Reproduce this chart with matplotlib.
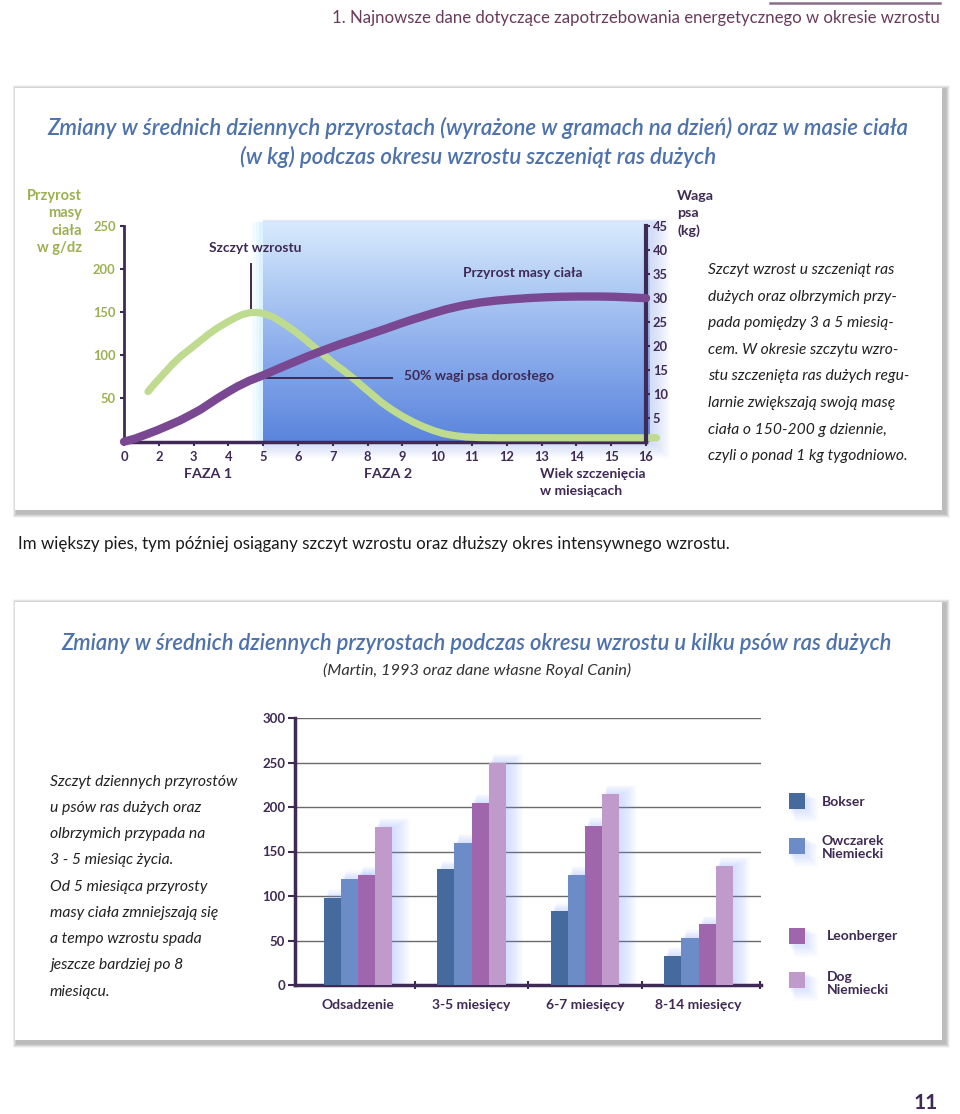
import matplotlib
matplotlib.use('Agg')
import matplotlib.pyplot as plt
import numpy as np
from matplotlib.patches import Rectangle
from matplotlib.colors import LinearSegmentedColormap

W, H = 960, 1114
DPI = 100
plt.rcParams['font.family'] = ['Lato', 'DejaVu Sans']

# ---------------- data: top chart ----------------
age_labels = ['0', '2', '3', '4', '5', '6', '7', '8', '9', '10', '11', '12', '13', '14', '15', '16']
gain_x = [0.69, 0.9, 1.15, 1.4, 1.65, 1.92, 2.2, 2.45, 2.68, 2.95, 3.2, 3.42, 3.64, 3.85,
          4.05, 4.3, 4.6, 4.9, 5.17, 5.45, 5.75, 6.05, 6.32, 6.6, 6.9, 7.15, 7.4, 7.7,
          8.0, 8.3, 8.6, 8.9, 9.2, 9.5, 9.8, 10.2, 10.8, 12.0, 13.0, 14.0, 15.3]
gain_g = [58, 68, 79, 90, 99.5, 108, 117, 125, 131.5, 138, 143.5, 147.5, 149.5, 149.5,
          148, 144, 136.5, 128, 119.5, 110, 100, 90, 82, 73, 62.5, 54, 45.5, 37,
          29.5, 23, 17.5, 12.8, 9.2, 7, 5.6, 4.8, 4.5, 4.5, 4.5, 4.5, 4.5]
weight_x = [0, 0.3, 0.6, 0.96, 1.25, 1.6, 1.92, 2.2, 2.45, 2.68, 2.95, 3.26, 3.6, 4.02,
            4.4, 4.79, 5.25, 5.75, 6.2, 6.7, 7.1, 7.47, 7.9, 8.31, 8.8, 9.27, 9.75,
            10.23, 10.7, 11.2, 11.7, 12.15, 12.6, 13.11, 13.6, 14.07, 14.55, 15.0]
weight_kg = [0, 0.6, 1.4, 2.4, 3.3, 4.4, 5.6, 6.7, 7.9, 9.0, 10.2, 11.5, 12.7, 13.9,
             15.1, 16.3, 17.7, 19.1, 20.3, 21.5, 22.5, 23.4, 24.5, 25.5, 26.6, 27.6, 28.4,
             29.0, 29.4, 29.7, 29.95, 30.1, 30.2, 30.25, 30.25, 30.2, 30.05, 29.9]
peak_x, peak_g = 3.64, 150
half_weight_kg = 13.3
left_ticks = [50, 100, 150, 200, 250]
right_ticks = [5, 10, 15, 20, 25, 30, 35, 40, 45]

# ---------------- data: bottom chart ----------------
age_groups = ['Odsadzenie', '3-5 miesięcy', '6-7 miesięcy', '8-14 miesięcy']
breeds = ['Bokser', 'Owczarek\nNiemiecki', 'Leonberger', 'Dog\nNiemiecki']
bokser = [98, 130, 83, 33]
owczarek = [119, 160, 124, 53]
leonberger = [124, 205, 179, 68]
dog = [178, 250, 215, 134]
bar_ticks = [0, 50, 100, 150, 200, 250, 300]

DARK = '#3f2a55'
OLIVE = '#9db04f'
GREEN = '#bedb8f'
PURPLE = '#7a4792'
BLUE_T = '#4e72ab'
BAR_COLORS = ['#456a9e', '#6b8cc6', '#a066ad', '#c09acb']

fig = plt.figure(figsize=(W / DPI, H / DPI), dpi=DPI)
fig.patch.set_facecolor('white')
renderer = fig.canvas.get_renderer()


def px_axes(x0, y0, x1, y1):
    return fig.add_axes([x0 / W, 1 - y1 / H, (x1 - x0) / W, (y1 - y0) / H])


def ftxt(x, y, s, size, ha='left', va='center', **kw):
    return fig.text(x / W, 1 - y / H, s, fontsize=size, ha=ha, va=va, **kw)


def fit(x, y, s, width, ha='left', **kw):
    t = ftxt(x, y, s, 10, ha=ha, **kw)
    bb = t.get_window_extent(renderer=renderer)
    size = 10 * width / bb.width
    t.set_fontsize(size)
    return t, size


# ---------------- background / cards ----------------
bg = px_axes(0, 0, W, H)
bg.set_xlim(0, W)
bg.set_ylim(H, 0)
bg.axis('off')
bg.set_zorder(-5)


def card(x0, y0, x1, y1):
    for i in range(8, 0, -1):
        bg.add_patch(Rectangle((x0 - i * 0.5 + 1.5, y0 - i * 0.5 + 1), (x1 - x0) + i * 1.0 + 2,
                               (y1 - y0) + i * 1.0 + 2.5, facecolor='#000000', alpha=0.035, lw=0))
    bg.add_patch(Rectangle((x0, y0), x1 - x0, y1 - y0, facecolor='white', lw=0))


card(15, 88, 942, 510)
card(15, 602, 942, 1040)
bg.plot([770, 940], [3, 3], color='#8b6f88', lw=1.8)

# glow around the phase-2 block
for i, c in enumerate(['#f4fcff', '#e8f8fe', '#dcf3fd']):
    bg.add_patch(Rectangle((252 + i * 3.7, 222), 11 - i * 3.7, 220, facecolor=c, lw=0))
for i in range(1, 11):
    bg.add_patch(Rectangle((263, 222 - i * 0.3), 388 + i * 1.9, 220 + i * 1.9,
                           facecolor='#6e93ea', alpha=0.03, lw=0))

# ---------------- top chart ----------------
ax1 = px_axes(124, 225.7, 646, 441.7)
ax1.set_facecolor('none')
cmap = LinearSegmentedColormap.from_list('g', ['#d8eafd', '#abc7f3', '#82a5e9', '#5a84dc'])
grad = np.linspace(0, 1, 256).reshape(-1, 1)
ax1.imshow(grad, cmap=cmap, extent=[4, 15.12, 0, 254], aspect='auto', origin='upper',
           zorder=0.5, clip_on=False)
ax1.plot(gain_x, gain_g, color=GREEN, lw=5.2, solid_capstyle='round',
         solid_joinstyle='round', clip_on=False, zorder=3)
ax1.plot([peak_x, peak_x], [peak_g, 206], color=DARK, lw=1.4, zorder=2, clip_on=False)
ax1.set_xlim(0, 15)
ax1.set_ylim(0, 250)
ax1.set_xticks(range(len(age_labels)))
ax1.set_xticklabels(age_labels)
ax1.set_yticks(left_ticks)
ax1.tick_params(axis='x', direction='out', length=3, width=1.5, color=DARK,
                labelcolor=DARK, labelsize=9.3, pad=4)
ax1.tick_params(axis='y', direction='out', length=3, width=1.5, color=DARK,
                labelcolor=OLIVE, labelsize=9.3, pad=3)
for lab in ax1.get_xticklabels() + ax1.get_yticklabels():
    lab.set_fontweight('bold')
for s in ['top', 'right']:
    ax1.spines[s].set_visible(False)
ax1.spines['left'].set_color(DARK)
ax1.spines['left'].set_linewidth(2)
ax1.spines['bottom'].set_color(DARK)
ax1.spines['bottom'].set_linewidth(2.5)

ax2 = ax1.twinx()
ax2.plot([4.0, 7.69], [half_weight_kg, half_weight_kg], color=DARK, lw=1.4, zorder=2)
ax2.plot(weight_x, weight_kg, color=PURPLE, lw=6, solid_capstyle='round',
         solid_joinstyle='round', clip_on=False, zorder=4)
ax2.set_ylim(0, 45)
ax2.set_yticks(right_ticks)
ax2.tick_params(axis='y', direction='out', length=3, width=1.5, color=DARK,
                labelcolor=DARK, labelsize=9.3, pad=2)
for lab in ax2.get_yticklabels():
    lab.set_fontweight('bold')
for s in ['top', 'left', 'bottom']:
    ax2.spines[s].set_visible(False)
ax2.spines['right'].set_color(DARK)
ax2.spines['right'].set_linewidth(3)

# top chart texts
for txt, yy in zip(['Przyrost', 'masy', 'ciała', 'w g/dz'], [196, 213, 231, 248]):
    ftxt(82, yy, txt, 10.5, ha='right', color=OLIVE, weight='bold')
for txt, yy in zip(['Waga', 'psa', '(kg)'], [196, 213, 231]):
    ftxt(677, yy, txt, 10.3, ha='left', color=DARK, weight='bold')
ftxt(255, 248, 'Szczyt wzrostu', 10, ha='center', color=DARK, weight='bold')
ftxt(523, 273, 'Przyrost masy ciała', 10, ha='center', color=DARK, weight='bold')
ftxt(404, 376, '50% wagi psa dorosłego', 10, ha='left', color=DARK, weight='bold')
ftxt(208, 474, 'FAZA 1', 10.3, ha='center', color=DARK, weight='bold')
ftxt(388, 474, 'FAZA 2', 10.3, ha='center', color=DARK, weight='bold')
ftxt(540, 474, 'Wiek szczenięcia', 10, ha='left', color=DARK, weight='bold')
ftxt(540, 491, 'w miesiącach', 10, ha='left', color=DARK, weight='bold')

para1 = ['Szczyt wzrost u szczeniąt ras', 'dużych oraz olbrzymich przy-',
         'pada pomiędzy 3 a 5 miesią-', 'cem. W okresie szczytu wzro-',
         'stu szczenięta ras dużych regu-', 'larnie zwiększają swoją masę',
         'ciała o 150-200 g dziennie,', 'czyli o ponad 1 kg tygodniowo.']
_, s1 = fit(708, 270, para1[0], 186, color='#222222', style='italic')
for i, line in enumerate(para1[1:], start=1):
    ftxt(708, 270 + 26.6 * i, line, s1, color='#222222', style='italic')

# titles / header
fit(940, 18, '1. Najnowsze dane dotyczące zapotrzebowania energetycznego w okresie wzrostu',
    610, ha='right', color='#6a3a5c')
_, st = fit(478, 128, 'Zmiany w średnich dziennych przyrostach (wyrażone w gramach na dzień) oraz w masie ciała',
            860, ha='center', color=BLUE_T, style='italic', weight='semibold')
ftxt(478, 157, '(w kg) podczas okresu wzrostu szczeniąt ras dużych', st, ha='center',
     color=BLUE_T, style='italic', weight='semibold')
fit(18, 544, 'Im większy pies, tym później osiągany szczyt wzrostu oraz dłuższy okres intensywnego wzrostu.',
    710, ha='left', color='#1a1a1a')
fit(477, 643, 'Zmiany w średnich dziennych przyrostach podczas okresu wzrostu u kilku psów ras dużych',
    829, ha='center', color=BLUE_T, style='italic', weight='semibold')
fit(477, 670, '(Martin, 1993 oraz dane własne Royal Canin)', 309, ha='center',
    color='#333333', style='italic')

# ---------------- bottom chart ----------------
ax3 = px_axes(295, 718, 761, 985)
ax3.set_facecolor('none')
ax3.set_xlim(-0.555, 3.55)
ax3.set_ylim(0, 300)
for v in bar_ticks[1:]:
    ax3.axhline(v, color='#6a6a6a', lw=1, zorder=0.5)
w = 0.1514
xg = np.arange(len(age_groups))
series = [bokser, owczarek, leonberger, dog]
for i, (vals, c) in enumerate(zip(series, BAR_COLORS)):
    xs = xg + (i - 1.5) * w
    for k in range(1, 10):
        ax3.bar(xs + 0.011 * k, np.array(vals) - 2.0 + 1.3 * k, width=w + 0.012 * k,
                color='#7f9dff', alpha=0.04, lw=0, zorder=1)
    ax3.bar(xs, vals, width=w, color=c, lw=0, zorder=3)
ax3.set_yticks(bar_ticks)
ax3.set_xticks([0.5, 1.5, 2.5, 3.54])
ax3.set_xticklabels([])
ax3.set_xticks(xg, minor=True)
ax3.set_xticklabels(age_groups, minor=True)
ax3.tick_params(axis='x', which='major', direction='inout', length=6, width=1.5, color=DARK)
ax3.tick_params(axis='x', which='minor', length=0, pad=10, labelsize=10, labelcolor=DARK)
ax3.tick_params(axis='y', direction='out', length=5, width=1.5, color=DARK,
                labelcolor=DARK, labelsize=9.5, pad=2)
for lab in ax3.get_xticklabels(minor=True) + ax3.get_yticklabels():
    lab.set_fontweight('bold')
for s in ['top', 'right']:
    ax3.spines[s].set_visible(False)
ax3.spines['left'].set_color(DARK)
ax3.spines['left'].set_linewidth(2.5)
ax3.spines['bottom'].set_color(DARK)
ax3.spines['bottom'].set_linewidth(2.5)

# legend
leg_sq_y = [793, 838, 928, 972]
leg_txt = [(822, 802), (822, 847.5), (827, 936), (827, 983.5)]
for (c, name, sy, (tx, ty)) in zip(BAR_COLORS, breeds, leg_sq_y, leg_txt):
    for k in range(1, 8):
        bg.add_patch(Rectangle((789 + k * 0.8, sy + k * 0.8), 16 + k * 1.0, 16 + k * 1.0,
                               facecolor='#7f9dff', alpha=0.04, lw=0))
    bg.add_patch(Rectangle((789, sy), 16, 16, facecolor=c, lw=0))
    ftxt(tx, ty, name, 10, ha='left', color=DARK, weight='bold', linespacing=1.15)

para2 = ['Szczyt dziennych przyrostów', 'u psów ras dużych oraz', 'olbrzymich przypada na',
         '3 - 5 miesiąc życia.', 'Od 5 miesiąca przyrosty', 'masy ciała zmniejszają się',
         'a tempo wzrostu spada', 'jeszcze bardziej po 8', 'miesiącu.']
_, s2 = fit(50, 781.7, para2[0], 188, color='#222222', style='italic')
for i, line in enumerate(para2[1:], start=1):
    ftxt(50, 781.7 + 26.25 * i, line, s2, color='#222222', style='italic')

ftxt(938, 1103, '11', 15, ha='right', color=DARK, weight='bold')

fig.savefig('out.png', dpi=DPI, facecolor='white')
